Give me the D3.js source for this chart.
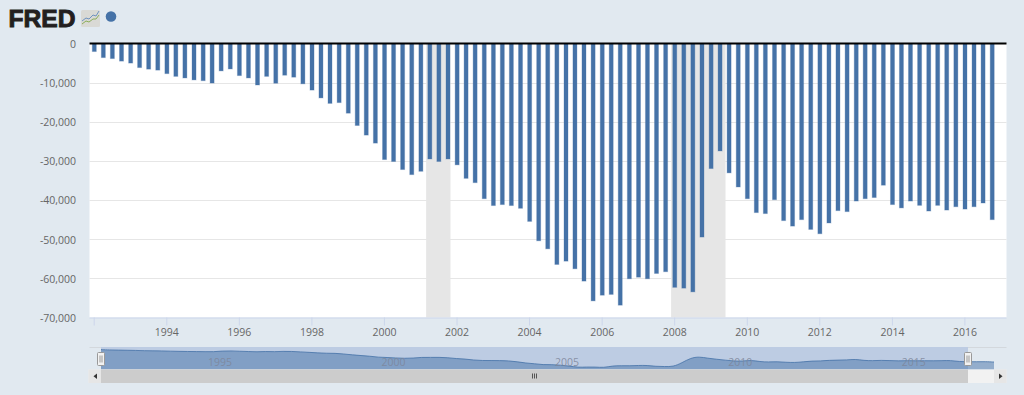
<!DOCTYPE html>
<html>
<head>
<meta charset="utf-8">
<style>
  html, body { margin: 0; padding: 0; background: #e1e9f0; overflow: hidden; }
  svg { display: block; }
  text { font-family: "Open Sans", sans-serif; }
</style>
<script src="https://cdnjs.cloudflare.com/ajax/libs/d3/7.8.5/d3.min.js"></script>
</head>
<body>
<div id="chart"></div>
<script>
// quarterly values, 1992 Q1 onward
const firstYear = 1992;
const values = [
  -2050, -3600, -3850, -4500,
  -5000, -6150, -6550, -6800,
  -7700, -8400, -8800, -9300,
  -9500, -10100, -7000, -6500,
  -8200, -8800, -10600, -8400,
  -10150, -8100, -8600, -10300,
  -11900, -13900, -15300, -15100,
  -17800, -20950, -23400, -25450,
  -29650, -30150, -32200, -33500,
  -32650, -29500, -30150, -29500,
  -31000, -34450, -35550, -39650,
  -41400, -41150, -41400, -42100,
  -45450, -50400, -52450, -56450,
  -55600, -57550, -60700, -65750,
  -64300, -64100, -66850, -60100,
  -59700, -60100, -58750, -58300,
  -62300, -62500, -63450, -49450,
  -31950, -27450, -33050, -36650,
  -39650, -43200, -43450, -39900,
  -45250, -46650, -45000, -47500,
  -48600, -45850, -42700, -42950,
  -40250, -39650, -39350, -36200,
  -41150, -42000, -40250, -41350,
  -42800, -41350, -42550, -41700,
  -42300, -41700, -40750, -45000
];
// 2017 quarters only show up in the navigator
const navigatorTail = [-45800, -45500, -45000, -46500];
const yTicks = [0, -10000, -20000, -30000, -40000, -50000, -60000, -70000];
const xTickYears = [1992, 1994, 1996, 1998, 2000, 2002, 2004, 2006, 2008, 2010, 2012, 2014, 2016];
const navigatorYears = [1995, 2000, 2005, 2010, 2015];
const recessions = [
  [[2001, 2], [2001, 10]],
  [[2007, 11], [2009, 5]]
];

const width = 1024, height = 395;
const plot = {left: 89.5, right: 1006.5, top: 43.5, bottom: 317.5};
const nav = {top: 348, bottom: 369.5, left: 101, right: 968, end: 994};
const barColor = '#4572a7';

const date = (y, m) => new Date(Date.UTC(y, m, 1));
const quarterDate = i => date(firstYear + Math.floor(i / 4), (i % 4) * 3);

const svg = d3.select('#chart').append('svg')
  .attr('width', width)
  .attr('height', height);

const x = d3.scaleUtc()
  .domain([date(1992, 0), date(2016, 0)])
  .range([93.7, 964.4]);

const y = d3.scaleLinear()
  .domain([0, -70000])
  .range([plot.top, plot.bottom]);

// Logo
svg.append('text')
  .attr('x', 8.5).attr('y', 26.5)
  .attr('textLength', 67)
  .attr('lengthAdjust', 'spacingAndGlyphs')
  .style('font-family', '"Liberation Sans", sans-serif')
  .style('font-weight', 'bold')
  .style('font-size', '24px')
  .style('stroke', '#231f20')
  .style('stroke-width', 0.9)
  .attr('fill', '#231f20')
  .text('FRED');

const icon = svg.append('g').attr('transform', 'translate(81,10)');
icon.append('rect')
  .attr('width', 19).attr('height', 17).attr('rx', 1.5)
  .attr('fill', '#d9d9d5');
icon.append('path')
  .attr('d', 'M1,11 L5,8 L8,9 L12,5 L15,6 L18,1')
  .attr('fill', 'none').attr('stroke', '#6f93bf').attr('stroke-width', 1);
icon.append('path')
  .attr('d', 'M1,14 L5,11 L8,12 L12,9 L15,9 L18,5')
  .attr('fill', 'none').attr('stroke', '#8cae5b').attr('stroke-width', 1);

svg.append('circle')
  .attr('cx', 111).attr('cy', 16.5).attr('r', 5.3)
  .attr('fill', barColor);

// Plot area
svg.append('rect')
  .attr('x', plot.left).attr('y', plot.top)
  .attr('width', plot.right - plot.left)
  .attr('height', plot.bottom - plot.top)
  .attr('fill', '#fff');

svg.append('g')
  .selectAll('line')
  .data(yTicks.filter(d => d !== 0 && d !== -70000))
  .enter().append('line')
  .attr('x1', plot.left).attr('x2', plot.right)
  .attr('y1', d => Math.round(y(d)) + 0.5)
  .attr('y2', d => Math.round(y(d)) + 0.5)
  .attr('stroke', '#e6e6e6');

svg.append('g')
  .selectAll('rect')
  .data(recessions)
  .enter().append('rect')
  .attr('x', d => x(date(d[0][0], d[0][1])))
  .attr('width', d => x(date(d[1][0], d[1][1])) - x(date(d[0][0], d[0][1])))
  .attr('y', plot.top)
  .attr('height', plot.bottom - plot.top)
  .attr('fill', '#e6e6e6');

// Bars
svg.append('g')
  .selectAll('rect')
  .data(values)
  .enter().append('rect')
  .attr('x', (d, i) => x(quarterDate(i)) - 1.4)
  .attr('width', 4)
  .attr('y', y(0))
  .attr('height', d => y(d) - y(0))
  .attr('fill', barColor)
  .attr('stroke', barColor)
  .attr('stroke-opacity', 0.3)
  .attr('stroke-width', 1);

// Zero line
svg.append('line')
  .attr('x1', plot.left).attr('x2', plot.right)
  .attr('y1', y(0)).attr('y2', y(0))
  .attr('stroke', '#000').attr('stroke-width', 2);

// Axes
const yAxis = svg.append('g')
  .attr('transform', `translate(${plot.left},0.5)`)
  .call(d3.axisLeft(y)
    .tickValues(yTicks)
    .tickSize(0)
    .tickPadding(13.5)
    .tickFormat(d => d.toLocaleString('en-US')));
yAxis.select('.domain').remove();
yAxis.selectAll('text')
  .attr('fill', '#666')
  .style('font-size', '10.5px')
  .style('font-family', '"Open Sans", sans-serif');

const xAxis = svg.append('g')
  .attr('transform', `translate(0,${plot.bottom})`)
  .call(d3.axisBottom(x)
    .tickValues(xTickYears.map(yr => date(yr, 0)))
    .tickSize(8)
    .tickPadding(3)
    .tickFormat(d => d.getUTCFullYear() === 1992 ? '' : d.getUTCFullYear()));
xAxis.select('.domain')
  .attr('d', `M${plot.left},0.5H${plot.right}`)
  .attr('stroke', '#ccd6eb');
xAxis.selectAll('.tick line').attr('stroke', '#ccd6eb');
xAxis.selectAll('text')
  .attr('fill', '#666')
  .style('font-size', '10.5px')
  .style('font-family', '"Open Sans", sans-serif');

// Navigator
const navX = d3.scaleUtc()
  .domain([date(1992, 0), date(2017, 9)])
  .range([nav.left, nav.end]);
const navY = d3.scaleLinear()
  .domain([0, -70000])
  .range([349, 368.6]);
const navValues = values.concat(navigatorTail);

svg.append('line')
  .attr('x1', plot.left).attr('x2', plot.right)
  .attr('y1', nav.top - 0.5).attr('y2', nav.top - 0.5)
  .attr('stroke', '#d3d8dd');

svg.append('rect')
  .attr('x', nav.left).attr('y', nav.top - 1)
  .attr('width', nav.right - nav.left)
  .attr('height', nav.bottom - nav.top + 1)
  .attr('fill', '#bdcce3');

const navArea = d3.area()
  .x((d, i) => navX(quarterDate(i)))
  .y0(nav.bottom)
  .y1(d => navY(d))
  .curve(d3.curveBasis);
const navLine = d3.line()
  .x((d, i) => navX(quarterDate(i)))
  .y(d => navY(d))
  .curve(d3.curveBasis);

svg.append('path')
  .datum(navValues)
  .attr('d', navArea)
  .attr('fill', barColor)
  .attr('fill-opacity', 0.5);
svg.append('path')
  .datum(navValues)
  .attr('d', navLine)
  .attr('fill', 'none')
  .attr('stroke', barColor)
  .attr('stroke-opacity', 0.8);

svg.append('g')
  .selectAll('text')
  .data(navigatorYears)
  .enter().append('text')
  .attr('x', d => navX(date(d, 0)) + 3)
  .attr('y', 366)
  .attr('fill', '#7d869a')
  .attr('fill-opacity', 0.85)
  .style('font-size', '10.5px')
  .text(d => d);

// Scrollbar
const bar = {top: 369.5, h: 13.5};
svg.append('rect')
  .attr('x', plot.left - 1).attr('y', bar.top)
  .attr('width', plot.right - plot.left + 1).attr('height', bar.h)
  .attr('fill', '#f2f2f2');
svg.append('rect')
  .attr('x', nav.left).attr('y', bar.top)
  .attr('width', nav.right - nav.left).attr('height', bar.h)
  .attr('fill', '#cccccc');
[[plot.left - 1, 'M97,373.5 L97,379 L93.5,376.2 Z'], [nav.end, 'M999,373.5 L999,379 L1002.5,376.2 Z']].forEach(b => {
  svg.append('rect')
    .attr('x', b[0]).attr('y', bar.top)
    .attr('width', 12.5).attr('height', bar.h)
    .attr('fill', '#e6e6e6');
  svg.append('path').attr('d', b[1]).attr('fill', '#333');
});
[-2, 0, 2].forEach(dx => {
  svg.append('line')
    .attr('x1', 534.5 + dx).attr('x2', 534.5 + dx)
    .attr('y1', 373.5).attr('y2', 378.5)
    .attr('stroke', '#555');
});

// Navigator handles
[nav.left, nav.right].forEach(hx => {
  const h = svg.append('g').attr('transform', `translate(${hx},0)`);
  h.append('rect')
    .attr('x', -3.5).attr('y', 352.5)
    .attr('width', 7).attr('height', 13).attr('rx', 1)
    .attr('fill', '#f2f2f2').attr('stroke', '#999');
  [-1, 1].forEach(dx => {
    h.append('line')
      .attr('x1', dx).attr('x2', dx)
      .attr('y1', 355.5).attr('y2', 362.5)
      .attr('stroke', '#999');
  });
});
</script>
</body>
</html>
